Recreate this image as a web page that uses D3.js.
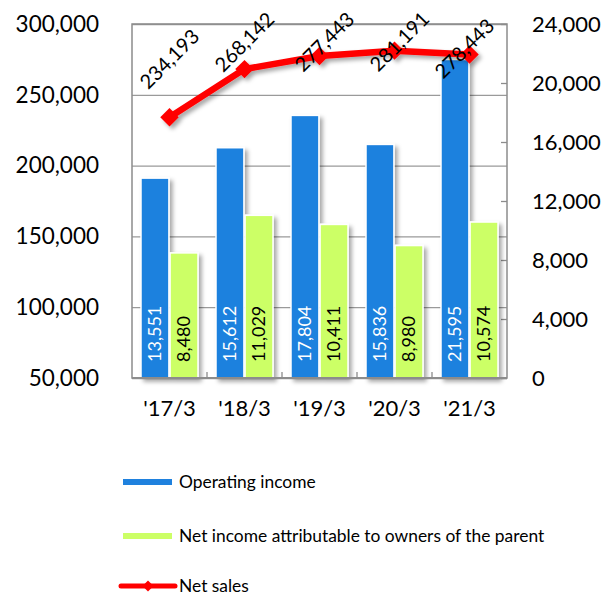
<!DOCTYPE html>
<html>
<head>
<meta charset="utf-8">
<script src="https://cdn.jsdelivr.net/npm/d3@7"></script>
<style>
  body { margin: 0; background: #fff; }
  text { font-family: Lato, "Open Sans", sans-serif; fill: #000; }
</style>
</head>
<body>
<div id="chart"></div>
<script>
// data
const periods = ["'17/3", "'18/3", "'19/3", "'20/3", "'21/3"];
const netSales = [234193, 268142, 277443, 281191, 278443];
const operatingIncome = [13551, 15612, 17804, 15836, 21595];
const netIncome = [8480, 11029, 10411, 8980, 10574];
const leftTicks = [50000, 100000, 150000, 200000, 250000, 300000];
const rightTicks = [0, 4000, 8000, 12000, 16000, 20000, 24000];
const seriesNames = ["Operating income", "Net income attributable to owners of the parent", "Net sales"];

const width = 608, height = 596;
const plot = { left: 132, right: 507, top: 24, bottom: 378 };
const blue = "#1f81de", green = "#ccff66", red = "#ff0000";
const fmt = d3.format(",");

const svg = d3.select("#chart").append("svg")
  .attr("width", width)
  .attr("height", height);

const defs = svg.append("defs");
defs.append("filter").attr("id", "shadow")
  .attr("x", "-20%").attr("y", "-20%").attr("width", "150%").attr("height", "150%")
  .append("feDropShadow")
  .attr("dx", 3).attr("dy", 3).attr("stdDeviation", 2)
  .attr("flood-color", "#000").attr("flood-opacity", 0.35);

// scales
const x0 = d3.scaleBand().domain(periods)
  .range([plot.left, plot.right])
  .paddingInner(0.24).paddingOuter(0.12);
const x1 = d3.scaleBand().domain([0, 1])
  .range([0, x0.bandwidth()])
  .paddingInner(0.04);
const yL = d3.scaleLinear().domain([50000, 300000]).range([plot.bottom, plot.top]);
const yR = d3.scaleLinear().domain([0, 24000]).range([plot.bottom, plot.top]);

// grid lines (left axis)
svg.append("g")
  .attr("transform", `translate(${plot.left},0)`)
  .call(d3.axisLeft(yL).tickValues(leftTicks).tickSize(-(plot.right - plot.left)).tickFormat(""))
  .call(g => g.select(".domain").remove())
  .call(g => g.selectAll("line").attr("stroke", "#9a9a9a").attr("stroke-width", 1.3));

// frame
svg.append("rect")
  .attr("x", plot.left).attr("y", plot.top)
  .attr("width", plot.right - plot.left).attr("height", plot.bottom - plot.top)
  .attr("fill", "none").attr("stroke", "#8c8c8c").attr("stroke-width", 1.5);

// right axis inward ticks
svg.append("g")
  .attr("transform", `translate(${plot.right},0)`)
  .call(d3.axisLeft(yR).tickValues(rightTicks).tickSize(6).tickFormat(""))
  .call(g => g.select(".domain").remove())
  .call(g => g.selectAll("line").attr("stroke", "#8c8c8c").attr("stroke-width", 1.3));

// category boundary ticks on bottom
const bounds = periods.map(p => x0(p) - x0.step() * x0.paddingOuter());
bounds.push(plot.right);
svg.append("g").selectAll("line").data(bounds.slice(1, -1)).join("line")
  .attr("x1", d => d).attr("x2", d => d)
  .attr("y1", plot.bottom).attr("y2", plot.bottom - 6)
  .attr("stroke", "#8c8c8c").attr("stroke-width", 1.3);

// bars
const barData = [];
periods.forEach((p, i) => {
  barData.push({ p, s: 0, v: operatingIncome[i] });
  barData.push({ p, s: 1, v: netIncome[i] });
});

svg.append("g").attr("filter", "url(#shadow)")
  .selectAll("rect").data(barData).join("rect")
  .attr("x", d => x0(d.p) + x1(d.s))
  .attr("y", d => yR(d.v))
  .attr("width", x1.bandwidth())
  .attr("height", d => yR(0) - yR(d.v))
  .attr("fill", d => d.s === 0 ? blue : green)
  .attr("stroke", "#fff").attr("stroke-width", 1.5);

// bottom axis line
svg.append("line")
  .attr("x1", plot.left).attr("x2", plot.right)
  .attr("y1", plot.bottom).attr("y2", plot.bottom)
  .attr("stroke", "#8c8c8c").attr("stroke-width", 2);

// bar labels
svg.append("g").selectAll("text").data(barData).join("text")
  .attr("transform", d => `translate(${x0(d.p) + x1(d.s) + x1.bandwidth() / 2},${plot.bottom - 16}) rotate(-90)`)
  .attr("dy", "0.35em")
  .style("font-size", "18px")
  .style("fill", d => d.s === 0 ? "#fff" : "#000")
  .text(d => fmt(d.v));

// net sales line
const pts = periods.map((p, i) => ({ p, v: netSales[i], i }));
const line = d3.line()
  .x(d => x0(d.p) + x0.bandwidth() / 2)
  .y(d => yL(d.v));

const lineG = svg.append("g").attr("filter", "url(#shadow)");
lineG.append("path").datum(pts)
  .attr("d", line)
  .attr("fill", "none").attr("stroke", red).attr("stroke-width", 6.5)
  .attr("stroke-linejoin", "round");
lineG.selectAll("path.mk").data(pts).join("path").attr("class", "mk")
  .attr("d", d3.symbol(d3.symbolSquare, 170))
  .attr("transform", d => `translate(${x0(d.p) + x0.bandwidth() / 2},${yL(d.v)}) rotate(45)`)
  .attr("fill", red);

// net sales labels (rotated)
const labelShift = [[0, -58], [0, -27], [5, -14], [5, -9], [-5, -6]];
svg.append("g").selectAll("text").data(pts).join("text")
  .attr("transform", d => `translate(${x0(d.p) + x0.bandwidth() / 2 + labelShift[d.i][0]},${yL(d.v) + labelShift[d.i][1]}) rotate(-45)`)
  .attr("text-anchor", "middle")
  .attr("dy", "0.35em")
  .style("font-size", "20px")
  .text(d => fmt(d.v));

// axis labels
svg.append("g").selectAll("text").data(leftTicks).join("text")
  .attr("x", 99).attr("y", d => yL(d))
  .attr("dy", "0.35em")
  .attr("text-anchor", "end")
  .style("font-size", "22.5px")
  .text(d => fmt(d));

svg.append("g").selectAll("text").data(rightTicks).join("text")
  .attr("x", 532).attr("y", d => yR(d))
  .attr("dy", "0.35em")
  .style("font-size", "22px")
  .text(d => fmt(d));

svg.append("g").selectAll("text").data(periods).join("text")
  .attr("x", d => x0(d) + x0.bandwidth() / 2).attr("y", 408)
  .attr("dy", "0.35em")
  .attr("text-anchor", "middle")
  .style("font-size", "22px")
  .text(d => d);

// legend
const legY = [482, 536, 586];
const leg = svg.append("g");
[blue, green].forEach((c, i) => {
  leg.append("line")
    .attr("x1", 123).attr("x2", 172)
    .attr("y1", legY[i]).attr("y2", legY[i])
    .attr("stroke", c).attr("stroke-width", 6);
});
leg.append("line")
  .attr("x1", 121).attr("x2", 175)
  .attr("y1", legY[2]).attr("y2", legY[2])
  .attr("stroke", red).attr("stroke-width", 5).attr("stroke-linecap", "round");
leg.append("path")
  .attr("d", d3.symbol(d3.symbolSquare, 60))
  .attr("transform", `translate(148,${legY[2]}) rotate(45)`)
  .attr("fill", red);
leg.selectAll("text").data(seriesNames).join("text")
  .attr("x", 179).attr("y", (d, i) => legY[i])
  .attr("dy", "0.35em")
  .style("font-size", "17.4px")
  .text(d => d);
</script>
</body>
</html>
